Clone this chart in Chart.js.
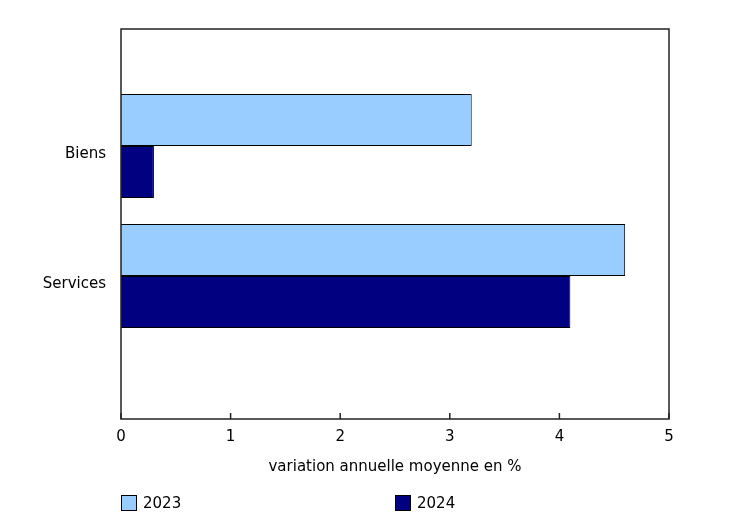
<!DOCTYPE html>
<html>
<head>
<meta charset="utf-8">
<script src="https://cdn.jsdelivr.net/npm/chart.js@4.4.0/dist/chart.umd.min.js"></script>
<style>
  body { margin: 0; background: #fff; }
  #wrap { position: relative; width: 739px; height: 523px; }
  #legend { position: absolute; left: 121px; top: 494px; font: 15px "DejaVu Sans", Verdana, sans-serif; color: #000; }
  .item { position: absolute; top: 0; white-space: nowrap; display: flex; align-items: center; }
  .box { width: 14px; height: 14px; border: 1px solid #000; margin-right: 6px; }
</style>
</head>
<body>
<div id="wrap">
  <canvas id="chart" width="739" height="523"></canvas>
  <div id="legend"></div>
</div>
<script>
const categories = ['Biens', 'Services'];
const values2023 = [3.2, 4.6];
const values2024 = [0.3, 4.1];
const seriesNames = ['2023', '2024'];
const seriesColors = ['#99ccff', '#000080'];
const xTicks = [0, 1, 2, 3, 4, 5];

Chart.defaults.font.family = '"DejaVu Sans", Verdana, sans-serif';
Chart.defaults.font.size = 15;
Chart.defaults.color = '#000';

// cadre + petites graduations vers l'intérieur
const framePlugin = {
  id: 'frame',
  afterDatasetsDraw(chart) {
    const { ctx, chartArea: a, scales } = chart;
    ctx.save();
    ctx.strokeStyle = '#222';
    ctx.lineWidth = 1.5;
    ctx.strokeRect(a.left, a.top, a.right - a.left, a.bottom - a.top);
    xTicks.forEach(v => {
      const x = scales.x.getPixelForValue(v);
      ctx.beginPath();
      ctx.moveTo(x, a.bottom);
      ctx.lineTo(x, a.bottom - 6);
      ctx.stroke();
    });
    ctx.restore();
  }
};

const toPoints = vals => vals.map((v, i) => ({ x: v, y: i }));

const chart = new Chart(document.getElementById('chart'), {
  type: 'bar',
  data: {
    datasets: [
      { label: seriesNames[0], data: toPoints(values2023), backgroundColor: seriesColors[0], borderColor: '#000', borderWidth: 1 },
      { label: seriesNames[1], data: toPoints(values2024), backgroundColor: seriesColors[1], borderColor: '#000', borderWidth: 1 }
    ]
  },
  options: {
    indexAxis: 'y',
    responsive: false,
    animation: false,
    categoryPercentage: 0.8,
    barPercentage: 1,
    layout: { padding: { top: 29, right: 70, bottom: 44, left: 0 } },
    plugins: { legend: { display: false }, tooltip: { enabled: false } },
    scales: {
      x: {
        type: 'linear',
        min: 0,
        max: 5,
        grid: { display: false, drawTicks: false },
        border: { display: false },
        ticks: { stepSize: 1, padding: 9 },
        afterBuildTicks: s => { s.ticks = xTicks.map(v => ({ value: v })); },
        afterFit: s => { s.height = 60; },
        title: { display: true, text: 'variation annuelle moyenne en %', padding: { top: 4, bottom: 3 } }
      },
      y: {
        type: 'linear',
        reverse: true,
        offset: false,
        min: -0.9,
        max: 2.1,
        grid: { display: false, drawTicks: false, offset: false },
        border: { display: false },
        ticks: { padding: 15, labelOffset: 8, callback: v => categories[v] },
        afterBuildTicks: s => { s.ticks = categories.map((c, i) => ({ value: i })); },
        afterFit: s => { s.width = 121; }
      }
    }
  },
  plugins: [framePlugin]
});

// légende HTML
const legend = document.getElementById('legend');
const legendX = [0, 274];
seriesNames.forEach((name, i) => {
  const it = document.createElement('div');
  it.className = 'item';
  it.style.left = legendX[i] + 'px';
  it.innerHTML = '<span class="box" style="background:' + seriesColors[i] + '"></span>' + name;
  legend.appendChild(it);
});
</script>
</body>
</html>
